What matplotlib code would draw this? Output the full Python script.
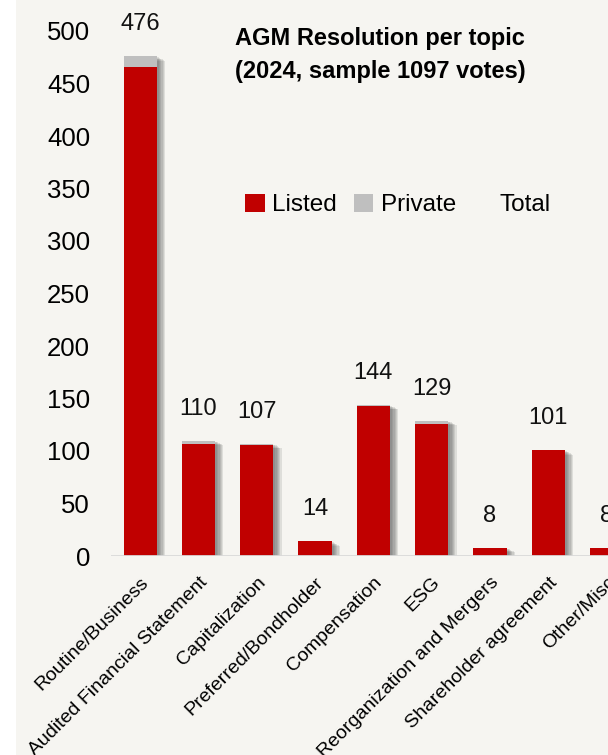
import matplotlib
matplotlib.use('Agg')
import matplotlib.pyplot as plt
import matplotlib.patheffects as pe
from matplotlib.lines import Line2D
from matplotlib.patches import Rectangle
import numpy as np

plt.rcParams['font.family'] = ['Liberation Sans', 'DejaVu Sans']

topics = ['Routine/Business', 'Audited Financial Statement', 'Capitalization',
          'Preferred/Bondholder', 'Compensation', 'ESG',
          'Reorganization and Mergers', 'Shareholder agreement', 'Other/Misc']
listed = [466, 107, 106, 14, 143, 126, 8, 101, 8]
private = [10, 3, 1, 0, 1, 3, 0, 0, 0]
yticks = [0, 50, 100, 150, 200, 250, 300, 350, 400, 450, 500]

RED = '#C00000'
GREY = '#BFBFBF'
BG = '#F6F5F1'

listed = np.array(listed)
private = np.array(private)
total = listed + private
x = np.arange(len(topics))

fig = plt.figure(figsize=(6.08, 7.55), dpi=100, facecolor=BG)
# white strip on the left margin
fig.patches.append(Rectangle((0, 0), 16 / 608, 1, transform=fig.transFigure,
                             facecolor='white', edgecolor='none', zorder=-1))
ax = fig.add_axes([111 / 608, 199 / 755, 497 / 608, 525 / 755])
ax.set_facecolor(BG)

# soft drop shadow built from a few stacked offsets
shadow = [pe.SimplePatchShadow(offset=(1.5 + i * 0.9, -0.8 - i * 0.5), shadow_rgbFace='#444444', alpha=0.13)
          for i in range(6)] + [pe.Normal()]

w = 0.57
b1 = ax.bar(x, listed, w, color=RED, label='Listed', zorder=3)
b2 = ax.bar(x, private, w, bottom=listed, color=GREY, label='Private', zorder=3)
for r1, r2 in zip(b1, b2):
    # shadow drawn once for the whole stack
    sh = Rectangle((r1.get_x(), 0), r1.get_width(), r1.get_height() + r2.get_height(),
                   facecolor=BG, edgecolor='none', zorder=2)
    sh.set_path_effects(shadow)
    ax.add_patch(sh)

for xi, t in zip(x, total):
    ax.annotate(str(t), (xi, t), xytext=(0, 15), textcoords='offset points',
                ha='center', va='bottom', fontsize=17, color='#111111')

ax.axhline(0, color='#D9D9D9', lw=2, zorder=4)

ax.set_ylim(0, 500)
ax.set_xlim(-0.5, 8.025)
ax.set_yticks(yticks)
ax.set_xticks(x)
ax.set_xticklabels(topics, rotation=45, ha='right', rotation_mode='anchor', fontsize=14)
ax.tick_params(axis='y', length=0, pad=15, labelsize=18.5)
ax.tick_params(axis='x', length=0, pad=13)
for s in ax.spines.values():
    s.set_visible(False)

fig.text(380 / 608, 1 - 27 / 755, 'AGM Resolution per topic\n(2024, sample 1097 votes)',
         ha='center', va='top', fontsize=17, fontweight='bold', linespacing=1.55)

handles = [b1, b2, Line2D([], [], linestyle='none')]
fig.legend(handles, ['Listed', 'Private', 'Total'], ncol=3, frameon=False,
           loc='center', bbox_to_anchor=(398 / 608, 1 - 205 / 755),
           fontsize=17.5, handlelength=0.8, handleheight=0.8, handletextpad=0.3,
           columnspacing=0.7)

fig.savefig('out.png', dpi=100, facecolor=BG)
